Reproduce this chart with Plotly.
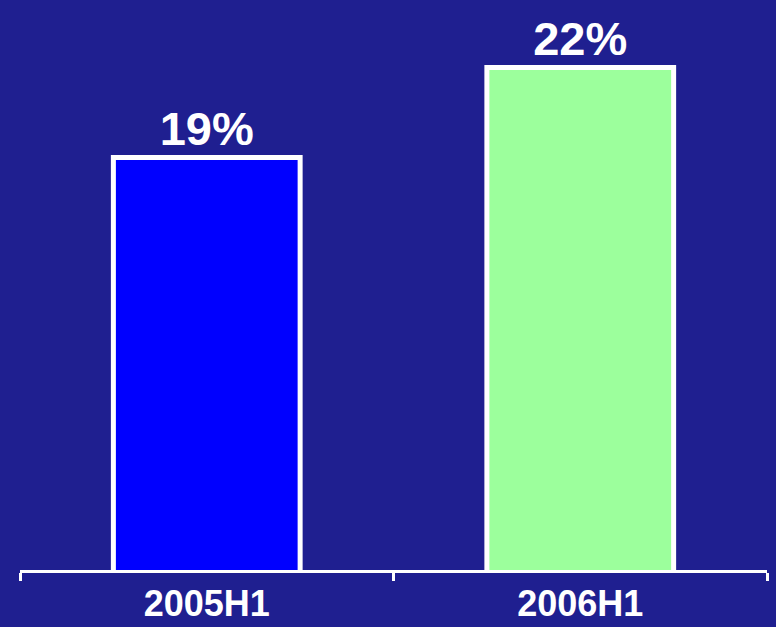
import plotly.graph_objects as go

categories = ["2005H1", "2006H1"]
values = [19, 22]
labels = ["19%", "22%"]
bar_colors = ["#0000ff", "#9cff9c"]

fig = go.Figure(
    go.Bar(
        x=categories,
        y=values,
        text=labels,
        textposition="outside",
        constraintext="none",
        cliponaxis=False,
        textfont=dict(family="Liberation Sans, Arial, sans-serif", size=47, color="white"),
        marker=dict(color=bar_colors, line=dict(color="white", width=5)),
        width=0.5,
    )
)

fig.update_layout(
    width=776,
    height=627,
    margin=dict(l=20, r=9, t=0, b=57),
    paper_bgcolor="#1f1f90",
    plot_bgcolor="#1f1f90",
    showlegend=False,
    font=dict(family="Liberation Sans, Arial, sans-serif", color="white"),
)
fig.update_xaxes(
    range=[-0.5, 1.5],
    showline=True,
    linecolor="white",
    linewidth=3,
    ticks="outside",
    tickson="boundaries",
    ticklen=8,
    tickwidth=3,
    tickcolor="white",
    showgrid=False,
    tickfont=dict(family="Liberation Sans, Arial, sans-serif", size=36, color="white"),
    tickprefix="<b>",
    ticksuffix="</b>",
)
fig.update_yaxes(range=[5.25, 24.25], visible=False, showgrid=False)
fig.update_traces(texttemplate="<b>%{text}</b>")

fig.write_html("out.html")
